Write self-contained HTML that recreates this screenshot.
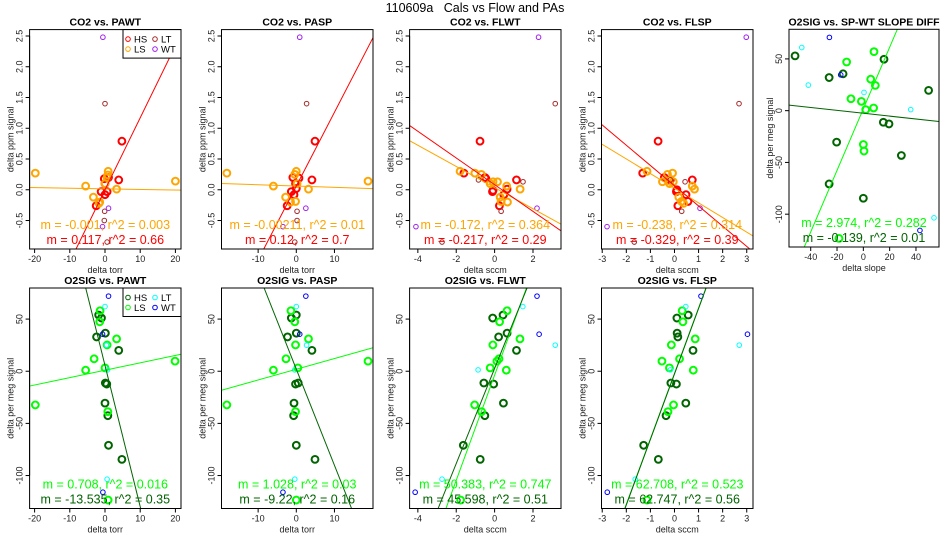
<!DOCTYPE html>
<html><head><meta charset="utf-8"><style>
html,body{margin:0;padding:0;background:#fff;width:950px;height:550px;overflow:hidden;}
svg{display:block;font-family:"Liberation Sans",sans-serif;}
</style></head><body>
<svg id="fig" width="950" height="550" viewBox="0 0 950 550">
<rect x="0" y="0" width="950" height="550" fill="#fff"/>
<text x="475" y="12" text-anchor="middle" font-size="12.5" xml:space="preserve">110609a   Cals vs Flow and PAs</text>
</svg>
<script>
// ---- data (per panel: HS, LS, LT, WT point sets; fit lines) ----
const p1HS=[[4.8,0.79],[3.9,0.16],[-0.2,0.18],[1,0.2],[-1.1,-0.03],[0,-0.08],[0.6,-0.03],[-2.5,-0.26],[0,0.1]];
const p1LS=[[-19.8,0.27],[-5.5,0.06],[-3.3,-0.12],[-1.5,-0.2],[-1.7,-0.22],[0.9,0.3],[0.8,0.24],[0,0.1],[3.3,0.01],[20,0.14],[0.6,0.2]];
const p1LT=[[0,1.4],[-0.1,-0.35],[0.6,-0.85],[-0.2,-0.5]];
const p1WT=[[-0.6,2.48],[1,-0.3],[-0.7,-0.6]];
const p2HS=[[4.9,0.79],[4.1,0.16],[-0.9,0.2],[0.7,0.19],[-1.3,-0.03],[-0.6,-0.08],[0,0.02],[-2.4,-0.26],[-0.2,0.1]];
const p2LS=[[-18.2,0.27],[-6,0.06],[-2.8,-0.12],[-1.5,-0.2],[-0.2,-0.19],[0,0.3],[-0.4,0.25],[0.2,0.1],[3.2,0.01],[18.8,0.14]];
const p2LT=[[2.7,1.4],[0.2,-0.35],[-0.4,-0.85],[0.2,-0.5]];
const p2WT=[[0.9,2.48],[2.5,-0.3],[-3.5,-0.6]];
const p3HS=[[-0.76,0.79],[-1.6,0.27],[-0.5,0.2],[-0.45,0.18],[-0.11,-0.03],[-0.08,-0.01],[0.48,-0.08],[0.65,0.01],[0.25,-0.26],[1.14,0.16]];
const p3LS=[[-1.8,0.3],[-1.03,0.27],[-0.69,0.25],[-0.23,0.1],[0.15,0.13],[0.63,0.06],[1.33,0.01],[0.29,-0.12],[0.34,-0.19],[0.67,-0.2],[-0.08,0.13]];
const p3LT=[[3.16,1.4],[1.48,0.13],[-0.84,0.16],[0.34,-0.35],[-2.74,-0.85]];
const p3WT=[[2.29,2.48],[2.21,-0.3],[-4.1,-0.6]];
const p4HS=[[-0.68,0.79],[-1.32,0.27],[-0.42,0.2],[-0.17,0.16],[0.08,-0.03],[0.1,0.0],[0.48,-0.08],[0.14,-0.26],[0.74,0.16],[0.56,-0.19]];
const p4LS=[[-1.14,0.3],[-0.08,0.27],[-0.29,0.25],[-0.2,0.1],[-0.5,0.13],[0.74,0.06],[0.83,0.01],[0.18,-0.12],[0.29,-0.19],[0.38,-0.22],[-0.05,0.13]];
const p4LT=[[2.68,1.4],[0.44,0.13],[-0.17,0.16],[0.3,-0.35],[-1.67,-0.85]];
const p4WT=[[2.98,2.48],[1.06,-0.3],[-2.8,-0.6]];
const p5HS=[[-51.9,52.9],[-26,32],[-15.4,35.6],[15.7,49.7],[49.6,19.6],[15.2,-11.2],[19.5,-12.8],[-20.3,-30.4],[28.9,-43.3],[-26,-70.8],[0,-84.6]];
const p5LS=[[8.1,57],[-12.7,47],[5.6,30.4],[9.1,24.4],[-9.4,11.5],[-1.5,9],[1.8,1],[7.8,2.6],[0,-32.7],[0.5,-39],[-18.5,-123.4]];
const p5LT=[[-46.8,61],[-41.8,24.7],[36,1],[53.7,-103.5],[0.5,17.6]];
const p5WT=[[-25.8,70.8],[-17.2,34.6],[43,-115.7]];
const p6HS=[[-1.8,53.9],[-1,51],[-2.4,32.9],[0.1,36.5],[3.9,20],[0.1,-11.3],[0.5,-12.3],[0,-30.6],[0.8,-42.6],[1,-71],[4.8,-84.5]];
const p6LS=[[-1.4,58],[-1.5,47.4],[3.3,31],[0.6,25.2],[-3.1,11.9],[-5.5,1],[0,3.2],[19.9,9.7],[-19.8,-32.3],[0.8,-38.7],[0.9,-123.5]];
const p6LT=[[0,62],[0.4,25],[0.7,1.3],[0.6,-103.5]];
const p6WT=[[1,72],[-0.7,35.5],[-0.6,-116]];
const p7HS=[[0,53.9],[-1.3,51],[-2.3,32.9],[0,36.5],[4.1,20],[-0.2,-12.3],[0.5,-11.3],[-0.6,-30.6],[-0.7,-42.6],[0,-71],[4.9,-84.5]];
const p7LS=[[-1.4,58],[-0.4,47.4],[3.2,31],[-0.2,25.2],[-2.7,11.9],[-6,1],[0.4,3.2],[18.8,9.7],[-18.2,-32.3],[-0.2,-38.7],[0,-123.5]];
const p7LT=[[0,62],[2.7,25],[-0.4,1.3],[-0.4,-103.5]];
const p7WT=[[2.5,72],[0.9,35.5],[-3.5,-116]];
const p8HS=[[-0.1,51],[0.44,53.9],[0.21,32.9],[0.65,36.5],[1.14,20],[-0.56,-11.3],[-0.05,-12.3],[0.46,-30.6],[-0.51,-42.6],[-1.63,-71],[-0.75,-84.5]];
const p8LS=[[0.65,58],[0.26,47.4],[1.32,31],[-0.09,25.2],[0.23,11.9],[0.61,1],[-0.23,3.2],[0.12,9.7],[-1.04,-32.3],[-0.68,-38.7],[-1.77,-123.5]];
const p8LT=[[1.47,62],[3.16,25],[-0.86,1.3],[-2.74,-103.5]];
const p8WT=[[2.21,72],[2.32,35.5],[-4.14,-116]];
const p9HS=[[0.1,51],[0.57,53.9],[-1.28,-71],[-0.67,-84.5],[0.14,32.9],[0.11,36.5],[0.77,20],[-0.15,-11.3],[0.08,-12.3],[0.47,-30.6],[-0.35,-42.6]];
const p9LS=[[0.32,58],[0.35,47.4],[0.86,31],[-0.13,25.2],[0.21,11.9],[0.78,1],[-0.21,3.2],[-0.52,9.7],[-0.04,-32.3],[-0.27,-38.7],[-1.14,-123.5]];
const p9LT=[[0.47,62],[2.69,25],[-0.17,1.3],[-1.63,-103.5]];
const p9WT=[[1.1,72],[3.03,35.5],[-2.79,-116]];
const slopesLS=[-0.001,-0.00211,-0.172,-0.238,2.974,0.708,1.028,50.383,62.708];
const interLS=[0.015,0.06,0.035,0.025,1.8,0.95,1.9,-3.8,-2.1];
const slopesHS=[0.117,0.12,-0.217,-0.329,-0.139,-13.535,-9.22,45.598,62.747];
const interHS=[0.0,0.06,0.083,0.066,-2.5,5.6,2.0,2.7,-2.6];
const r2LS=["0.003","0.01","0.364","0.314","0.282","0.016","0.03","0.747","0.523"];
const r2HS=["0.66","0.7","0.29","0.39","0.01","0.35","0.16","0.51","0.56"];
const mLS=["-0.001","-0.00211","-0.172","-0.238","2.974","0.708","1.028","50.383","62.708"];
const mHS=["0.117","0.12","-0.217","-0.329","-0.139","-13.535","-9.22","45.598","62.747"];
const titles=["CO2 vs. PAWT","CO2 vs. PASP","CO2 vs. FLWT","CO2 vs. FLSP","O2SIG vs. SP-WT SLOPE DIFF","O2SIG vs. PAWT","O2SIG vs. PASP","O2SIG vs. FLWT","O2SIG vs. FLSP"];
const xTitles=["delta torr","delta torr","delta sccm","delta sccm","delta slope","delta torr","delta torr","delta sccm","delta sccm"];
const xTicks=[[-20,-10,0,10,20],[-10,0,10],[-4,-2,0,2],[-3,-2,-1,0,1,2,3],[-40,-20,0,20,40],[-20,-10,0,10,20],[-10,0,10],[-4,-2,0,2],[-3,-2,-1,0,1,2,3]];
const yTicksCO2=[-0.5,0,0.5,1,1.5,2,2.5];
const yTicksO2=[-100,-50,0,50];

const geo=[
 {x0:29.6,x1:181,y0:29.6,y1:249,xl:-21.42,xr:21.59,yt:2.604,yb:-0.963},
 {x0:221.5,x1:373,y0:29.6,y1:249,xl:-19.6,xr:20.1,yt:2.604,yb:-0.963},
 {x0:409.6,x1:561,y0:29.6,y1:249,xl:-4.43,xr:3.46,yt:2.604,yb:-0.963},
 {x0:601.5,x1:753,y0:29.6,y1:249,xl:-3.03,xr:3.26,yt:2.604,yb:-0.963},
 {x0:789,x1:939,y0:29.3,y1:247,xl:-56.5,xr:57.5,yt:78.6,yb:-131.7},
 {x0:29.6,x1:181,y0:288,y1:508.5,xl:-21.42,xr:21.59,yt:79.8,yb:-131.6},
 {x0:221.5,x1:373,y0:288,y1:508.5,xl:-19.6,xr:20.1,yt:79.8,yb:-131.6},
 {x0:409.6,x1:561,y0:288,y1:508.5,xl:-4.43,xr:3.46,yt:79.8,yb:-131.6},
 {x0:601.5,x1:753,y0:288,y1:508.5,xl:-3.03,xr:3.26,yt:79.8,yb:-131.6}
];
const pts=[[p1HS,p1LS,p1LT,p1WT],[p2HS,p2LS,p2LT,p2WT],[p3HS,p3LS,p3LT,p3WT],[p4HS,p4LS,p4LT,p4WT],[p5HS,p5LS,p5LT,p5WT],[p6HS,p6LS,p6LT,p6WT],[p7HS,p7LS,p7LT,p7WT],[p8HS,p8LS,p8LT,p8WT],[p9HS,p9LS,p9LT,p9WT]];
const colCO2=["#ff0000","#ffa500","#a52a2a","#a020f0"];
const colO2=["#006400","#00ff00","#00ffff","#0000ff"];
const grpNames=["HS","LS","LT","WT"];
const NS="http://www.w3.org/2000/svg";
const svg=document.getElementById('fig');
function mk(tag,attrs,parent){const e=document.createElementNS(NS,tag);for(const k in attrs)e.setAttribute(k,attrs[k]);(parent||svg).appendChild(e);return e;}

geo.forEach((g,i)=>{
  const co2=i<4;
  const cols=co2?colCO2:colO2;
  const sx=v=>g.x0+(v-g.xl)/(g.xr-g.xl)*(g.x1-g.x0);
  const sy=v=>g.y0+(g.yt-v)/(g.yt-g.yb)*(g.y1-g.y0);
  const grp=mk('g',{});
  
  
  const cp=mk('clipPath',{id:'clip'+i},grp);
  mk('rect',{x:g.x0,y:g.y0,width:g.x1-g.x0,height:g.y1-g.y0},cp);
  const t=mk('text',{x:(g.x0+g.x1)/2,y:g.y0-4,'text-anchor':'middle','font-size':10.5,'font-weight':'bold'},grp);
  t.textContent=titles[i];
  
  
  const xa=mk('g',{},grp);
  
  
  const tk=xTicks[i];
  mk('line',{x1:sx(tk[0]),x2:sx(tk[tk.length-1]),y1:g.y1,y2:g.y1,stroke:'#000','stroke-width':1},xa);
  tk.forEach(v=>{
    mk('line',{x1:sx(v),x2:sx(v),y1:g.y1,y2:g.y1+4,stroke:'#000'},xa);
    const l=mk('text',{x:sx(v),y:g.y1+13,'text-anchor':'middle','font-size':9,fill:'#222'},xa);
    l.textContent=String(v);
    
    
  });
  const xt=mk('text',{x:(g.x0+g.x1)/2,y:g.y1+24,'text-anchor':'middle','font-size':9,fill:'#222'},grp);
  xt.textContent=xTitles[i];
  
  
  const ya=mk('g',{},grp);
  
  
  const yt=co2?yTicksCO2:yTicksO2;
  mk('line',{x1:g.x0,x2:g.x0,y1:sy(yt[0]),y2:sy(yt[yt.length-1]),stroke:'#000'},ya);
  yt.forEach(v=>{
    mk('line',{x1:g.x0-4,x2:g.x0,y1:sy(v),y2:sy(v),stroke:'#000'},ya);
    const tx=g.x0-7,ty=sy(v);
    const l=mk('text',{x:tx,y:ty,'text-anchor':'middle','font-size':9,fill:'#222',transform:`rotate(-90 ${tx} ${ty})`},ya);
    l.textContent=co2?v.toFixed(1):String(v);
    
    
  });
  const ytx=g.x0-16,yty=(g.y0+g.y1)/2;
  const ytl=mk('text',{x:ytx,y:yty,'text-anchor':'middle','font-size':9,fill:'#222',transform:`rotate(-90 ${ytx} ${yty})`},grp);
  ytl.textContent=co2?'delta ppm signal':'delta per meg signal';
  
  
  const pg=mk('g',{'clip-path':`url(#clip${i})`},grp);
  pts[i].forEach((set,k)=>{
    set.forEach(p=>{
      const c=mk('circle',{cx:sx(p[0]),cy:sy(p[1]),r:k<2?3.4:2.3,fill:'none',stroke:cols[k],'stroke-width':k<2?2:1},pg);
      
      
    });
  });
  [[slopesLS[i],interLS[i],cols[1],'fit-line-ls'],[slopesHS[i],interHS[i],cols[0],'fit-line-hs']].forEach(f=>{
    const m=f[0],b=f[1];
    // clip the line y=m*x+b to the plot window
    let xa0=g.xl,xa1=g.xr;
    if(m!==0){
      const xA=(g.yb-b)/m,xB=(g.yt-b)/m;
      xa0=Math.max(xa0,Math.min(xA,xB));
      xa1=Math.min(xa1,Math.max(xA,xB));
    }
    if(xa1<=xa0) return;
    const ln=mk('line',{x1:sx(xa0),y1:sy(m*xa0+b),x2:sx(xa1),y2:sy(m*xa1+b),stroke:f[2],'stroke-width':1},pg);
    
    
  });
  const cx=(g.x0+g.x1)/2;
  const a1=mk('text',{x:cx,y:g.y1-20,'text-anchor':'middle','font-size':12.5,fill:cols[1]},grp);
  a1.textContent=`m = ${mLS[i]}, r^2 = ${r2LS[i]}`;
  
  
  const a2=mk('text',{x:cx,y:g.y1-5,'text-anchor':'middle','font-size':12.5,fill:cols[0]},grp);
  a2.textContent=`m = ${mHS[i]}, r^2 = ${r2HS[i]}`;
  
  
  mk('rect',{x:g.x0,y:g.y0,width:g.x1-g.x0,height:g.y1-g.y0,fill:'none',stroke:'#000','stroke-width':1},grp);
  if(i===0||i===5){
    const lg=mk('g',{},grp);
    
    
    const lx=123,ly=g.y0;
    mk('rect',{x:lx,y:ly,width:g.x1-lx,height:28.5,fill:'#fff',stroke:'#000'},lg);
    grpNames.forEach((n,k)=>{
      const col=k<2?0:1,row=k%2;
      const px=lx+5+col*27,py=ly+9.5+row*10;
      mk('circle',{cx:px,cy:py,r:2.3,fill:'none',stroke:cols[k],'stroke-width':1},lg);
      const tt=mk('text',{x:px+6,y:py+3.5,'font-size':9.5},lg);
      tt.textContent=n;
      
      
    });
  }
});
</script>
</body></html>
